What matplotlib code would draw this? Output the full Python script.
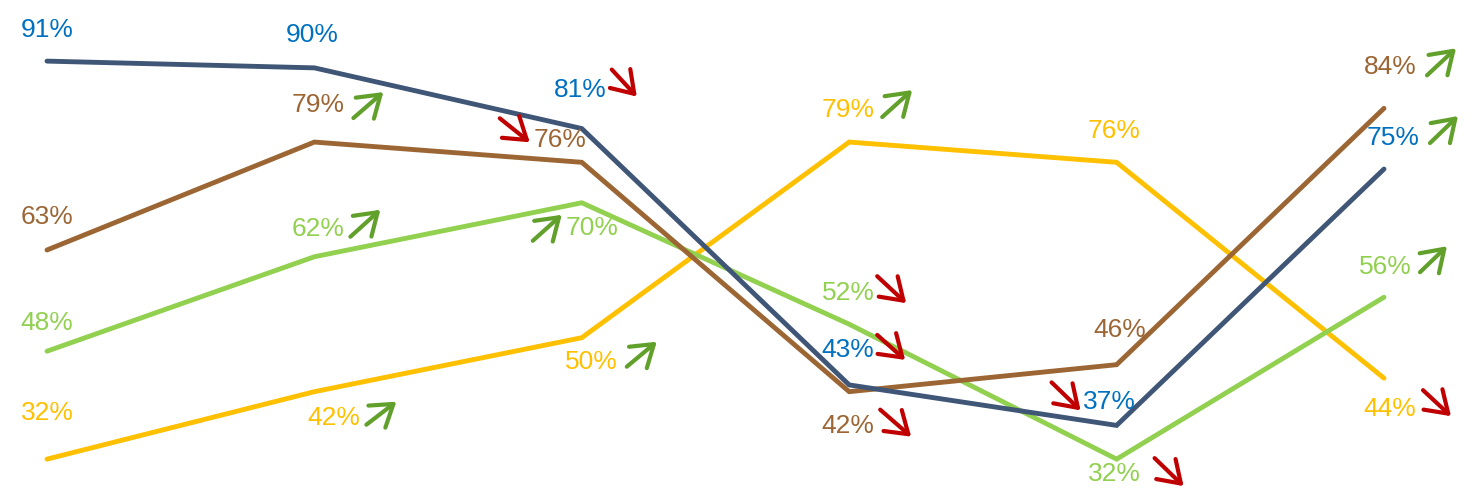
import matplotlib
matplotlib.use("Agg")
import matplotlib.pyplot as plt

# ---- data ----
periods = [0, 1, 2, 3, 4, 5]
series_names = ["blue", "brown", "green", "yellow"]
blue_vals = [91, 90, 81, 43, 37, 75]
brown_vals = [63, 79, 76, 42, 46, 84]
green_vals = [48, 62, 70, 52, 32, 56]
yellow_vals = [32, 42, 50, 79, 76, 44]
# trend arrows shown next to each label ('up', 'down' or '')
blue_trend = ["", "", "down", "down", "down", "up"]
brown_trend = ["", "up", "down", "down", "", "up"]
green_trend = ["", "up", "up", "down", "down", "up"]
yellow_trend = ["", "up", "up", "up", "", "down"]

# ---- layout / style ----
line_colors = {"blue": "#3F5677", "brown": "#9C6634", "green": "#92D050", "yellow": "#FFC000"}
label_colors = {"blue": "#0070C0", "brown": "#9C6634", "green": "#92D050", "yellow": "#FFC000"}
up_color = "#62A02C"
down_color = "#C00000"

# label offsets (pixels, y up) and arrow tail/head offsets
label_off = {
    "blue": [(0, 31), (-2, 33), (-2, 39), (-1, 35), (-7, 23), (9, 31)],
    "brown": [(0, 33), (4, 37), (-22, 22), (-1, -34), (3, 35), (6, 41)],
    "green": [(0, 28), (4, 28), (10, -25), (-1, 31), (-2, -15), (1, 30)],
    "yellow": [(0, 46), (19, -26), (10, -24), (-1, 32), (-3, 31), (6, -31)],
}
arrow_off = {
    "blue": [None, None, ((30, 59), (55, 32)), ((28, 50), (56, 25)),
             ((-65, 43), (-36, 15)), ((46, 26), (74, 53))],
    "brown": [None, ((39, 24), (69, 50)), ((-82, 44), (-52, 20)),
              ((31, -18), (62, -45)), None, ((43, 33), (72, 60))],
    "green": [None, ((36, 20), (66, 47)), ((-49, -38), (-20, -12)),
              ((28, 48), (57, 21)), ((38, 1), (67, -27)), ((36, 25), (63, 51))],
    "yellow": [None, ((52, -33), (82, -10)), ((45, -29), (75, -4)),
               ((33, 25), (63, 52)), None, ((39, -12), (67, -38))],
}

values = {"blue": blue_vals, "brown": brown_vals, "green": green_vals, "yellow": yellow_vals}
trends = {"blue": blue_trend, "brown": brown_trend, "green": green_trend, "yellow": yellow_trend}

plt.rcParams["font.family"] = ["Liberation Sans", "DejaVu Sans"]

fig = plt.figure(figsize=(14.73, 5.01), dpi=100)
ax = fig.add_axes([0, 0, 1, 1])
ax.axis("off")
ax.set_xlim(-47 / 267.4, (1473 - 47) / 267.4)
ax.set_ylim((675 - 501) / 6.746, 675 / 6.746)

draw_order = ["yellow", "green", "brown", "blue"]
for name in draw_order:
    ax.plot(periods, values[name], color=line_colors[name], lw=3.5,
            solid_joinstyle="miter", solid_capstyle="round", zorder=2)

fig.canvas.draw()
to_pix = ax.transData.transform
to_data = ax.transData.inverted().transform

for name in series_names:
    for i, v in enumerate(values[name]):
        dx, dy = label_off[name][i]
        ax.annotate(f"{v}%", xy=(periods[i], v), xytext=(dx, dy),
                    textcoords="offset pixels", ha="center", va="center",
                    fontsize=19, color=label_colors[name], zorder=4)
        t = trends[name][i]
        if t and arrow_off[name][i] is not None:
            (tx, ty), (hx, hy) = arrow_off[name][i]
            col = up_color if t == "up" else down_color
            bx, by = to_pix((periods[i], v))
            tail = to_data((bx + tx, by + ty))
            head = to_data((bx + hx, by + hy))
            ax.annotate("", xy=head, xycoords="data", xytext=tail,
                        textcoords="data",
                        arrowprops=dict(arrowstyle="->,head_length=0.75,head_width=0.5",
                                        color=col, lw=3.0, mutation_scale=20,
                                        shrinkA=0, shrinkB=0),
                        zorder=5)

fig.savefig("out.png", dpi=100)
